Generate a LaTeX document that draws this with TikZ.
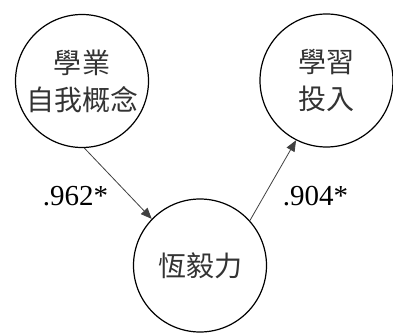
\documentclass[tikz,border=0pt]{standalone}
\usepackage{fontspec}
\setmainfont{Liberation Serif}
\newfontfamily\cjk{Noto Sans CJK TC}
\usetikzlibrary{arrows.meta}
\begin{document}
\begin{tikzpicture}[x=1pt,y=-1pt,
  var/.style={circle,draw=black,line width=1.2pt,inner sep=0pt,minimum size=133pt,
    font=\cjk\fontsize{28}{37}\selectfont,text=black!80,align=center},
  path/.style={draw=black!75,line width=0.8pt,-{Triangle[length=11pt,width=9pt]}},
  coef/.style={font=\fontsize{29}{32}\selectfont,inner sep=0pt}]
\useasboundingbox (0,0) rectangle (393,334);
\node[var] (asc) at (82,81) {學業\\自我概念};
\node[var] (eng) at (326.5,80.5) {\raisebox{-5pt}{\parbox{60pt}{\centering 學習\\投入}}};
\node[var] (grit) at (200,265.5) {恆毅力};
\draw[path] (asc.272) -- (grit.136);
\draw[path] (grit.42) -- (eng.243);
\node[coef] (l1) at (75.5,196) {.962*};
\node[coef] (l2) at (315.5,196) {.904*};
\end{tikzpicture}
\end{document}
